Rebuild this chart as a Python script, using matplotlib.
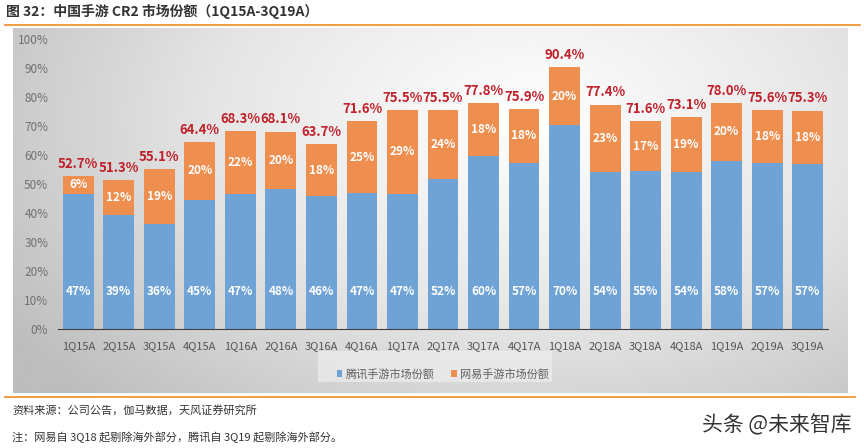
import numpy as np
import matplotlib.pyplot as plt
from matplotlib.colors import LinearSegmentedColormap
from matplotlib.patches import Rectangle

plt.rcParams['font.family'] = ['Noto Sans CJK SC', 'DejaVu Sans']

quarters = ['1Q15A', '2Q15A', '3Q15A', '4Q15A', '1Q16A', '2Q16A', '3Q16A', '4Q16A',
            '1Q17A', '2Q17A', '3Q17A', '4Q17A', '1Q18A', '2Q18A', '3Q18A', '4Q18A',
            '1Q19A', '2Q19A', '3Q19A']
tencent = [46.7, 39.3, 36.1, 44.6, 46.6, 48.3, 45.9, 46.8, 46.7, 51.6, 59.7, 57.4,
           70.2, 54.3, 54.6, 54.3, 57.9, 57.4, 56.9]
netease = [6.0, 12.0, 19.0, 19.8, 21.7, 19.8, 17.8, 24.8, 28.8, 23.9, 18.1, 18.5,
           20.2, 23.1, 17.0, 18.8, 20.1, 18.2, 18.4]
tencent_lbl = [47, 39, 36, 45, 47, 48, 46, 47, 47, 52, 60, 57, 70, 54, 55, 54, 58, 57, 57]
netease_lbl = [6, 12, 19, 20, 22, 20, 18, 25, 29, 24, 18, 18, 20, 23, 17, 19, 20, 18, 18]
total_lbl = ['52.7%', '51.3%', '55.1%', '64.4%', '68.3%', '68.1%', '63.7%', '71.6%',
             '75.5%', '75.5%', '77.8%', '75.9%', '90.4%', '77.4%', '71.6%', '73.1%',
             '78.0%', '75.6%', '75.3%']

blue = '#6fa3d6'
orange = '#ef8f4f'
red = '#c0202a'
W, H = 864, 448

fig = plt.figure(figsize=(W / 100, H / 100), dpi=100)

# grey gradient panel behind the chart
bg = fig.add_axes([13 / W, 1 - 393 / H, (848 - 13) / W, (393 - 28) / H])
yy, xx = np.mgrid[0:1:200j, 0:1:400j]
d = np.sqrt(((xx - 0.62) / 0.75) ** 2 + ((yy - 0.75) / 1.1) ** 2)
grad = np.clip(1 - d, 0, 1)
cmap = LinearSegmentedColormap.from_list('g', ['#bdbdbd', '#e6e6e6', '#ffffff'])
bg.imshow(grad, cmap=cmap, aspect='auto', origin='lower', extent=[0, 1, 0, 1])
bg.set_axis_off()
# legend box
bg.add_patch(Rectangle((0.365, 0.03), 0.28, 0.085, facecolor='#eeeeee',
                       edgecolor='none', alpha=0.7, transform=bg.transAxes))

ax = fig.add_axes([58 / W, 1 - 329 / H, 770 / W, 290 / H])
ax.patch.set_alpha(0)
x = np.arange(len(quarters))
top = np.array(tencent) + np.array(netease)
ax.bar(x, tencent, width=0.76, color=blue, label='腾讯手游市场份额')
ax.bar(x, netease, bottom=tencent, width=0.76, color=orange, label='网易手游市场份额')

for i in range(len(quarters)):
    ax.text(x[i], 13, f'{tencent_lbl[i]}%', ha='center', va='center',
            color='white', fontsize=8.5, fontweight='bold')
    ax.text(x[i], tencent[i] + netease[i] / 2, f'{netease_lbl[i]}%', ha='center',
            va='center', color='white', fontsize=8.5, fontweight='bold')
    ax.text(x[i], top[i] + 1.8, total_lbl[i], ha='center', va='bottom',
            color=red, fontsize=9.5, fontweight='bold')

ax.set_xlim(-0.5, len(quarters) - 0.5)
ax.set_ylim(0, 100)
ax.set_yticks(range(0, 101, 10))
ax.set_yticklabels([f'{v}%' for v in range(0, 101, 10)], color='#707070', fontsize=8.5)
ax.set_xticks(x)
ax.set_xticklabels(quarters, color='#555555', fontsize=8)
ax.tick_params(length=0, pad=9)
ax.tick_params(axis='y', pad=7)
for s in ['top', 'right', 'left']:
    ax.spines[s].set_visible(False)
ax.spines['bottom'].set_color('#404040')

ax.legend(loc='center', bbox_to_anchor=(0.5, (329 - 374) / 290.0),
          ncol=2, frameon=False, fontsize=8, handlelength=0.5, handleheight=0.5,
          columnspacing=1.5, handletextpad=0.3, labelcolor='#606060')

# title and rules
fig.text(6 / W, 1 - 11 / H, '图 32：中国手游 CR2 市场份额（1Q15A-3Q19A）', fontsize=10,
         color='#333333', va='center', ha='left', fontweight='bold')
fig.add_artist(plt.Line2D([5 / W, 860 / W], [1 - 25 / H, 1 - 25 / H], color='#f08a24', lw=1.2))
fig.add_artist(plt.Line2D([5 / W, 855 / W], [1 - 397 / H, 1 - 397 / H], color='#f08a24', lw=1.2))

fig.text(12 / W, 1 - 410 / H, '资料来源：公司公告，伽马数据，天风证券研究所', fontsize=8,
         color='#333333', va='center', ha='left')
fig.text(12 / W, 1 - 437 / H, '注：网易自 3Q18 起剔除海外部分，腾讯自 3Q19 起剔除海外部分。',
         fontsize=8, color='#333333', va='center', ha='left')
fig.text(852 / W, 1 - 425 / H, '头条 @未来智库', fontsize=15, color='#333333',
         va='center', ha='right')

fig.savefig('out.png', dpi=100)
